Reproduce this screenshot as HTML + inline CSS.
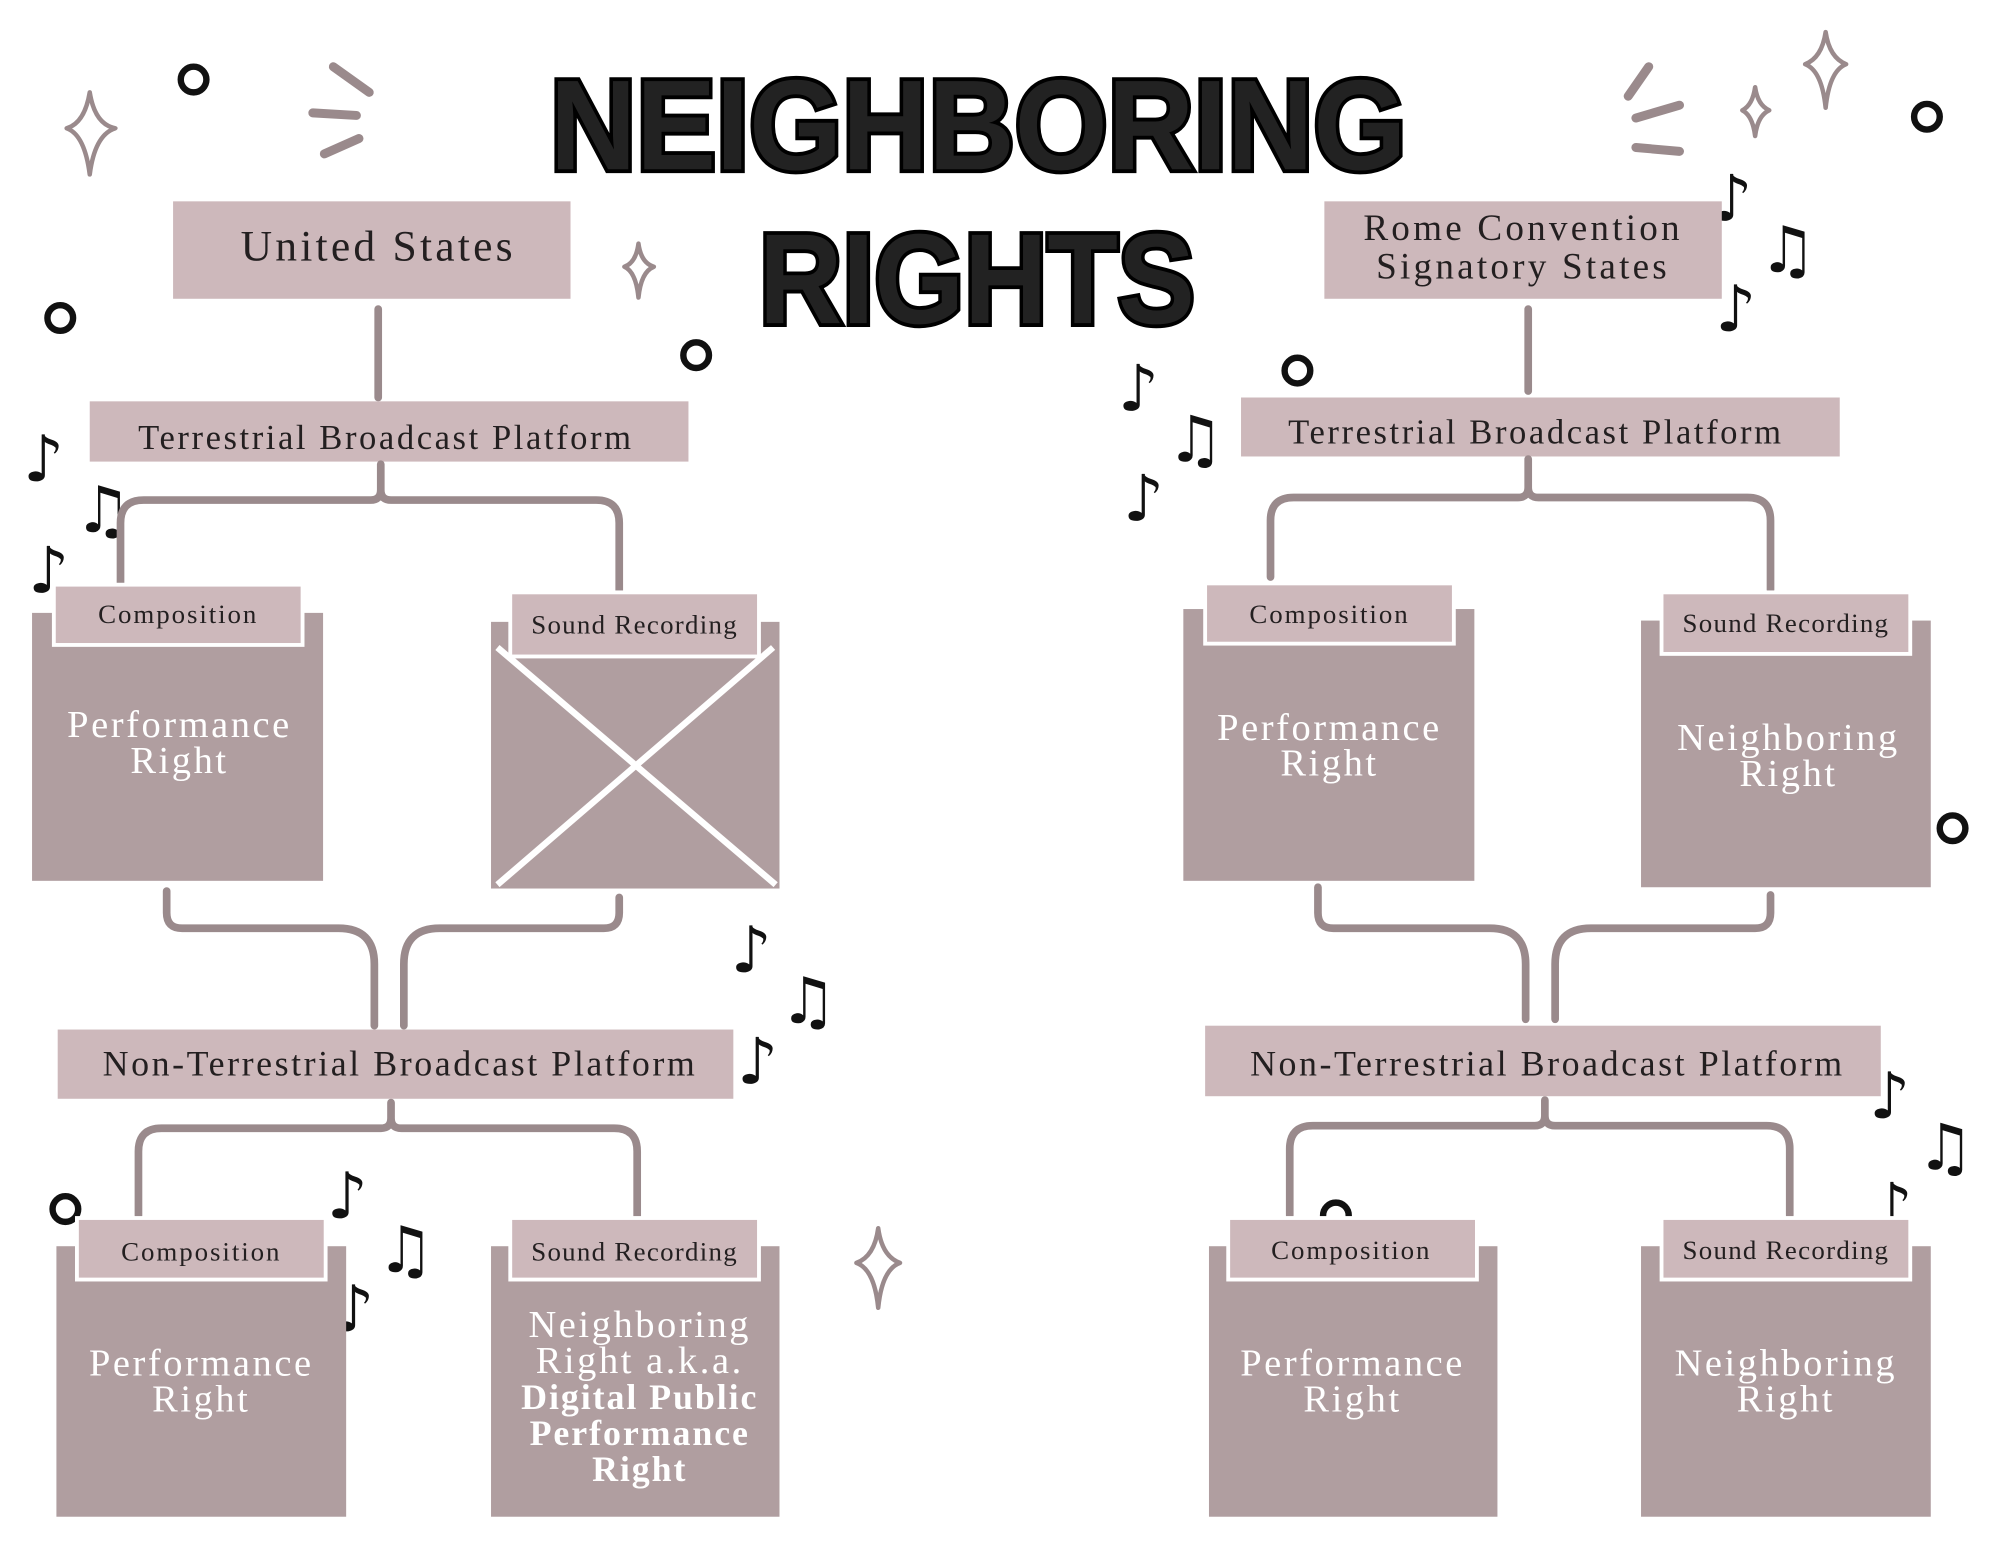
<!DOCTYPE html>
<html><head><meta charset="utf-8"><style>
html,body{margin:0;padding:0;background:#fff;}
svg{display:block;}
.lbl{font-family:"Liberation Serif",serif;fill:#231f20;text-anchor:middle;}
.wt{font-family:"Liberation Serif",serif;fill:#fff;text-anchor:middle;font-size:30px;letter-spacing:2px;}
.wb{font-family:"Liberation Serif",serif;font-weight:bold;fill:#fff;text-anchor:middle;font-size:28px;letter-spacing:1.5px;}
.ln{fill:none;stroke:#9a8a8c;stroke-width:6;stroke-linecap:round;stroke-linejoin:round;}
.tab{fill:#cdb8bb;stroke:#fff;stroke-width:3;}
.box{fill:#b09ea0;}
.hd{fill:#cdb8bb;}
.note{font-family:"DejaVu Sans",sans-serif;fill:#111;}
.ring{fill:none;stroke:#111;stroke-width:5;}
.sp{fill:none;stroke:#9a8a8c;stroke-width:3.5;stroke-linejoin:round;}
.title{font-family:"Liberation Sans",sans-serif;font-weight:bold;fill:#222;stroke:#000;stroke-width:6;paint-order:stroke;text-anchor:middle;}
</style></head><body>
<svg width="2000" height="1545" viewBox="0 0 1560 1205" xmlns="http://www.w3.org/2000/svg">
<rect width="1560" height="1205" fill="#fff"/>
<text class="title" x="763" y="132" font-size="100" textLength="668" lengthAdjust="spacingAndGlyphs">NEIGHBORING</text>
<text class="title" x="762" y="252" font-size="100" textLength="340" lengthAdjust="spacingAndGlyphs">RIGHTS</text>

<circle class="ring" cx="151" cy="62" r="10"/>
<circle class="ring" cx="47" cy="248" r="10"/>
<circle class="ring" cx="543" cy="277" r="10"/>
<circle class="ring" cx="1503" cy="91" r="10"/>
<circle class="ring" cx="1012" cy="289" r="10"/>
<circle class="ring" cx="1523" cy="646" r="10"/>
<circle class="ring" cx="51" cy="943" r="10"/>
<circle class="ring" cx="1042" cy="948" r="10"/>
<path class="sp" d="M70 72 Q74 97 90 100 Q74 105 70 136 Q66 105 52 100 Q66 96 70 72Z"/>
<path class="sp" d="M498 190 Q500 205 510 208 Q500 212 498 232 Q496 212 487 208 Q496 205 498 190Z"/>
<path class="sp" d="M685 958 Q688 980 702 985 Q688 990 685 1020 Q682 990 668 985 Q682 980 685 958Z"/>
<path class="sp" d="M1424 25 Q1427 45 1440 50 Q1427 55 1424 84 Q1421 55 1408 50 Q1421 45 1424 25Z"/>
<path class="sp" d="M1369 68 Q1371 82 1380 86 Q1371 90 1369 106 Q1367 90 1359 86 Q1367 82 1369 68Z"/>
<g stroke="#9a8a8c" stroke-width="7" stroke-linecap="round">
<line x1="260" y1="52" x2="288" y2="72"/><line x1="244" y1="88" x2="278" y2="90"/><line x1="253" y1="120" x2="280" y2="108"/>
<line x1="1270" y1="75" x2="1286" y2="52"/><line x1="1276" y1="92" x2="1310" y2="82"/><line x1="1276" y1="115" x2="1310" y2="118"/>
</g>
<g class="note">
<text x="18" y="375" font-size="50">♪</text><text x="58" y="415" font-size="50">♫</text><text x="22" y="462" font-size="50">♪</text>
<text x="570" y="758" font-size="50">♪</text><text x="608" y="798" font-size="50">♫</text><text x="575" y="845" font-size="50">♪</text>
<text x="255" y="950" font-size="50">♪</text><text x="294" y="992" font-size="50">♫</text><text x="260" y="1038" font-size="50">♪</text>
<text x="872" y="320" font-size="50">♪</text><text x="910" y="360" font-size="50">♫</text><text x="876" y="406" font-size="50">♪</text>
<text x="1335" y="172" font-size="50">♪</text><text x="1372" y="212" font-size="50">♫</text><text x="1338" y="258" font-size="50">♪</text>
<text x="1458" y="872" font-size="50">♪</text><text x="1495" y="912" font-size="50">♫</text><text x="1460" y="958" font-size="50">♪</text>
</g>

<rect class="hd" x="135" y="157" width="310" height="76"/>
<text class="lbl" x="295" y="203" font-size="34" letter-spacing="2.5">United States</text>
<path class="ln" d="M295 241 V310"/>
<rect class="hd" x="70" y="313" width="467" height="47"/>
<text class="lbl" x="301" y="350" font-size="27" letter-spacing="2">Terrestrial Broadcast Platform</text>
<path class="ln" d="M297 362 V382 Q297 390 289 390 H112 Q94 390 94 408 V455 M297 382 Q297 390 305 390 H465 Q483 390 483 408 V462"/>
<rect class="box" x="25" y="478" width="227" height="209"/>
<rect class="tab" x="42" y="456" width="194" height="47"/>
<text class="lbl" x="139" y="486" font-size="21" letter-spacing="1.5">Composition</text>
<text class="wt" x="140" y="575">Performance</text><text class="wt" x="140" y="603">Right</text>
<rect class="box" x="383" y="485" width="225" height="208"/>
<path d="M388 505 L605 690 M603 505 L388 690" stroke="#fff" stroke-width="5"/>
<rect class="tab" x="398" y="462" width="194" height="50"/>
<text class="lbl" x="495" y="494" font-size="21" letter-spacing="1">Sound Recording</text>
<path class="ln" d="M130 695 V712 Q130 724 142 724 H264 Q292 724 292 752 V800 M483 700 V712 Q483 724 471 724 H343 Q315 724 315 752 V800"/>
<rect class="hd" x="45" y="803" width="527" height="54"/>
<text class="lbl" x="312" y="839" font-size="28" letter-spacing="2">Non-Terrestrial Broadcast Platform</text>
<path class="ln" d="M305 860 V872 Q305 880 297 880 H126 Q108 880 108 898 V948 M305 872 Q305 880 313 880 H479 Q497 880 497 898 V960"/>
<rect class="box" x="44" y="972" width="226" height="211"/>
<rect class="tab" x="60" y="950" width="194" height="48"/>
<text class="lbl" x="157" y="983" font-size="21" letter-spacing="1.5">Composition</text>
<text class="wt" x="157" y="1073">Performance</text><text class="wt" x="157" y="1101">Right</text>
<rect class="box" x="383" y="972" width="225" height="211"/>
<rect class="tab" x="398" y="950" width="194" height="48"/>
<text class="lbl" x="495" y="983" font-size="21" letter-spacing="1">Sound Recording</text>
<text class="wt" x="499" y="1043" font-size="28">Neighboring</text>
<text class="wt" x="499" y="1071" font-size="28">Right a.k.a.</text>
<text class="wb" x="499" y="1099">Digital Public</text>
<text class="wb" x="499" y="1127">Performance</text>
<text class="wb" x="499" y="1155">Right</text>

<rect class="hd" x="1033" y="157" width="310" height="76"/>
<text class="lbl" x="1188" y="187" font-size="29" letter-spacing="2.5">Rome Convention</text>
<text class="lbl" x="1188" y="217" font-size="29" letter-spacing="2.5">Signatory States</text>
<path class="ln" d="M1192 241 V305"/>
<rect class="hd" x="968" y="310" width="467" height="46"/>
<text class="lbl" x="1198" y="346" font-size="27" letter-spacing="2">Terrestrial Broadcast Platform</text>
<path class="ln" d="M1192 358 V380 Q1192 388 1184 388 H1009 Q991 388 991 406 V450 M1192 380 Q1192 388 1200 388 H1363 Q1381 388 1381 406 V460"/>
<rect class="box" x="923" y="475" width="227" height="212"/>
<rect class="tab" x="940" y="455" width="194" height="47"/>
<text class="lbl" x="1037" y="486" font-size="21" letter-spacing="1.5">Composition</text>
<text class="wt" x="1037" y="577">Performance</text><text class="wt" x="1037" y="605">Right</text>
<rect class="box" x="1280" y="484" width="226" height="208"/>
<rect class="tab" x="1296" y="462" width="194" height="48"/>
<text class="lbl" x="1393" y="493" font-size="21" letter-spacing="1">Sound Recording</text>
<text class="wt" x="1395" y="585">Neighboring</text><text class="wt" x="1395" y="613">Right</text>
<path class="ln" d="M1028 692 V712 Q1028 724 1040 724 H1162 Q1190 724 1190 752 V795 M1381 698 V712 Q1381 724 1369 724 H1241 Q1213 724 1213 752 V795"/>
<rect class="hd" x="940" y="800" width="527" height="55"/>
<text class="lbl" x="1207" y="839" font-size="28" letter-spacing="2">Non-Terrestrial Broadcast Platform</text>
<path class="ln" d="M1205 858 V870 Q1205 878 1197 878 H1024 Q1006 878 1006 896 V948 M1205 870 Q1205 878 1213 878 H1378 Q1396 878 1396 896 V948"/>
<rect class="box" x="943" y="972" width="225" height="211"/>
<rect class="tab" x="958" y="950" width="194" height="48"/>
<text class="lbl" x="1054" y="982" font-size="21" letter-spacing="1.5">Composition</text>
<text class="wt" x="1055" y="1073">Performance</text><text class="wt" x="1055" y="1101">Right</text>
<rect class="box" x="1280" y="972" width="226" height="211"/>
<rect class="tab" x="1296" y="950" width="194" height="48"/>
<text class="lbl" x="1393" y="982" font-size="21" letter-spacing="1">Sound Recording</text>
<text class="wt" x="1393" y="1073">Neighboring</text><text class="wt" x="1393" y="1101">Right</text>
</svg>
</body></html>
